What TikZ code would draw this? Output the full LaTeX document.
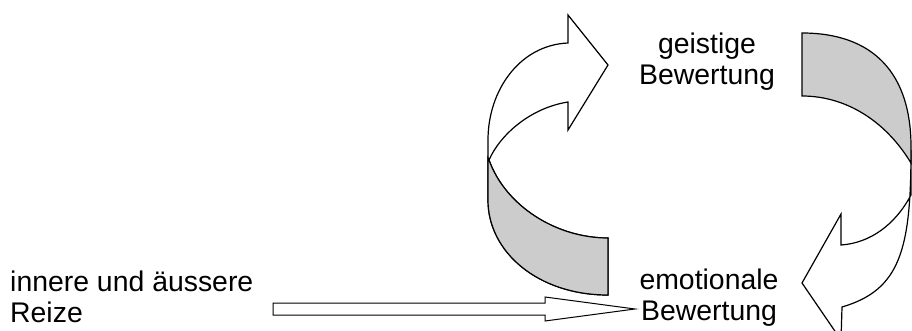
\documentclass[tikz,border=0pt]{standalone}
\usepackage{fontspec}
\setmainfont{Liberation Sans}
\usetikzlibrary{calc}
\definecolor{ribbongrey}{RGB}{204,204,204}
\begin{document}
\begin{tikzpicture}[x=1pt,y=-1pt,
  band/.style={draw=black, line width=1.2pt, line join=miter, fill=white},
  face/.style={draw=black, line width=1.2pt, line join=miter, fill=ribbongrey},
  lbl/.style={font=\fontsize{28.4}{31}\selectfont, inner sep=0pt}]
\useasboundingbox (0,0) rectangle (912,331);

% labels (anchor = baseline of the last line)
\node[lbl, anchor=base west, align=left] (reize) at (10,322) {innere und äussere\\Reize};
\node[lbl, anchor=base, align=center] (geist) at (707,85) {geistige\\Bewertung};
\node[lbl, anchor=base, align=center] (emo) at (709,320) {emotionale\\Bewertung};

% straight block arrow from stimuli to emotional evaluation
\coordinate (hstart) at (273,309);
\coordinate (htip) at (635,309);
\draw[band, line width=1pt] ($(hstart)+(0,-6)$) -- ($(htip)+(-90,-6)$) -- ($(htip)+(-90,-12)$)
  -- (htip) -- ($(htip)+(-90,12)$) -- ($(htip)+(-90,6)$) -- ($(hstart)+(0,6)$) -- cycle;

% left curved ribbon arrow (emotional -> mental evaluation)
\draw[band] (608,295) .. controls (538,295) and (488,252) .. (488,200)
  -- (488,140) .. controls (488,90) and (520,45) .. (568,43)
  -- (568,15) -- (608,65) -- (568,130) -- (568,102)
  .. controls (530,108) and (500,135) .. (489,160)
  .. controls (505,205) and (555,238) .. (608,238) -- cycle;
\draw[face] (489,160) .. controls (505,205) and (555,238) .. (608,238)
  -- (608,295) .. controls (538,295) and (488,252) .. (488,200) -- (488,158) -- cycle;

% right curved ribbon arrow (mental -> emotional evaluation)
\begin{scope}
\clip (0,0) rectangle (912,331);
\draw[band] (911,150) .. controls (911,250) and (900,290) .. (842,307)
  -- (841,340) -- (802,283) -- (841,214) -- (841,245)
  .. controls (870,243) and (895,225) .. (911,195) -- cycle;
\draw[face] (802,33) .. controls (872,33) and (912,72) .. (911,150)
  -- (911,163) .. controls (885,120) and (845,96) .. (802,96) -- cycle;
\end{scope}
\end{tikzpicture}
\end{document}
